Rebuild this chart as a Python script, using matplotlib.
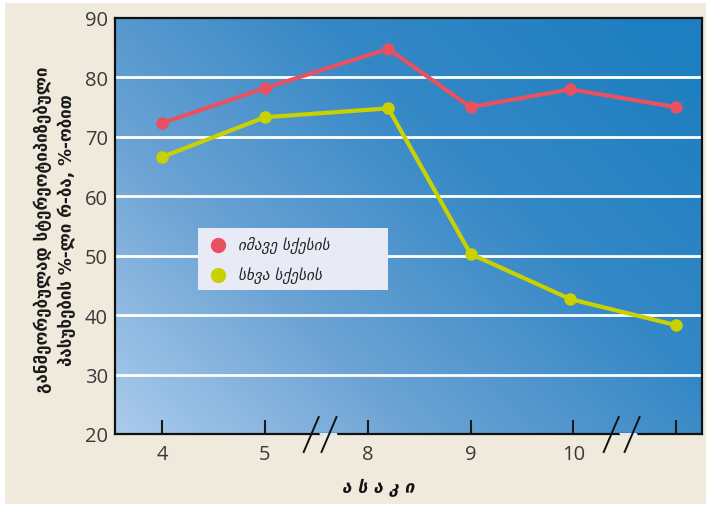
import numpy as np
import matplotlib
matplotlib.use("Agg")
import matplotlib.pyplot as plt
from matplotlib.colors import LinearSegmentedColormap
from matplotlib.patches import Rectangle, Polygon
from matplotlib.lines import Line2D

plt.rcParams['font.family'] = ['DejaVu Sans']

# data
tick_labels = ['4', '5', '8', '9', '10', '']
x_same = [0, 1, 2.2, 3, 3.97, 5]
same_class = [72.3, 78.2, 84.8, 75.0, 78.0, 75.0]
x_other = [0, 1, 2.2, 3, 3.97, 5]
other_class = [66.6, 73.3, 74.8, 50.3, 42.7, 38.3]
legend_names = ['იმავე სქესის', 'სხვა სქესის']

bg = '#f0eadd'
red = '#e8515f'
yellow = '#c9d200'

fig = plt.figure(figsize=(7.06, 5.06), dpi=100, facecolor='white')
fig.patches.append(Rectangle((5/706, 1/506), 701/706, 501/506, transform=fig.transFigure,
                             facecolor=bg, edgecolor='none', zorder=-10))

ax = fig.add_axes([115/706, 71/506, 587/706, 416/506])
ax.set_xlim(-0.457, 5.25)
ax.set_ylim(20, 90)

# diagonal gradient background
nx, ny = 300, 200
gx, gy = np.meshgrid(np.linspace(0, 1, nx), np.linspace(0, 1, ny))
t = np.clip(0.62 * gx + 0.45 * gy, 0, 1)
cmap = LinearSegmentedColormap.from_list('bg', ['#aacbec', '#6aa2d4', '#3588c6', '#1e7fc0'])
ax.imshow(t, cmap=cmap, origin='lower', extent=[0, 1, 0, 1], transform=ax.transAxes,
          aspect='auto', zorder=0, vmin=0, vmax=1)

for y in range(30, 90, 10):
    ax.axhline(y, color='white', lw=2, zorder=1)

ax.plot(x_same, same_class, color=red, lw=3, marker='o', ms=8, zorder=3)
ax.plot(x_other, other_class, color=yellow, lw=3, marker='o', ms=8, zorder=3)

ax.set_xticks(range(len(tick_labels)))
ax.set_xticklabels(tick_labels)
ax.set_yticks(range(20, 91, 10))
ax.tick_params(axis='x', direction='in', length=10, width=1.5, color='#1a1a1a',
               labelsize=14.5, labelcolor='#3a3a3a', pad=7)
ax.tick_params(axis='y', length=0, labelsize=14.5, labelcolor='#3a3a3a', pad=5)
for lab in ax.get_xticklabels() + ax.get_yticklabels():
    lab.set_fontfamily(['Open Sans', 'DejaVu Sans'])
for s in ax.spines.values():
    s.set_color('#111111')
    s.set_linewidth(1.6)
    s.set_zorder(4)

# axis break marks
for x0 in [303.7, 321.5, 603.7, 624.6]:
    fig.add_artist(Line2D([x0/706, (x0 + 15)/706], [(506-453)/506, (506-418)/506],
                          transform=fig.transFigure, color='#111111', lw=1.4, zorder=6))
for x0 in [303.7, 603.7]:
    gap = Polygon([((x0 + 17)/706, (506-437)/506), ((x0 + 15.5)/706, (506-434)/506),
                   ((x0 + 33)/706, (506-434)/506), ((x0 + 34.5)/706, (506-437)/506)],
                  closed=True, transform=fig.transFigure, facecolor='#dfe6ee',
                  edgecolor='none', zorder=5)
    fig.add_artist(gap)

# legend box
ax.add_patch(Rectangle((0.141, 0.346), 0.324, 0.149, transform=ax.transAxes,
                       facecolor='#e8eaf5', edgecolor='none', zorder=5))
ax.plot([0.176], [0.455], 'o', color=red, ms=10, transform=ax.transAxes, zorder=6)
ax.plot([0.176], [0.383], 'o', color=yellow, ms=10, transform=ax.transAxes, zorder=6)
ax.text(0.21, 0.455, legend_names[0], transform=ax.transAxes, fontsize=11,
        style='italic', color='#222222', va='center', zorder=6)
ax.text(0.21, 0.383, legend_names[1], transform=ax.transAxes, fontsize=11,
        style='italic', color='#222222', va='center', zorder=6)

fig.text(43/706, 1 - 230/506, 'განმეორებულად სტერეოტიპიზებული', rotation=90,
         ha='center', va='center', fontsize=12.2, fontweight='bold', color='#1a1a1a')
fig.text(67/706, 1 - 230/506, 'პასუხების %-ლი რ-ბა, %-ობით', rotation=90,
         ha='center', va='center', fontsize=12.2, fontweight='bold', color='#1a1a1a')
fig.text(378/706, 1 - 488/506, 'ა ს ა კ ი', ha='center', va='center', fontsize=12.5,
         fontweight='bold', style='italic', color='#111111')

fig.savefig('out.png', dpi=100, facecolor=fig.get_facecolor())
